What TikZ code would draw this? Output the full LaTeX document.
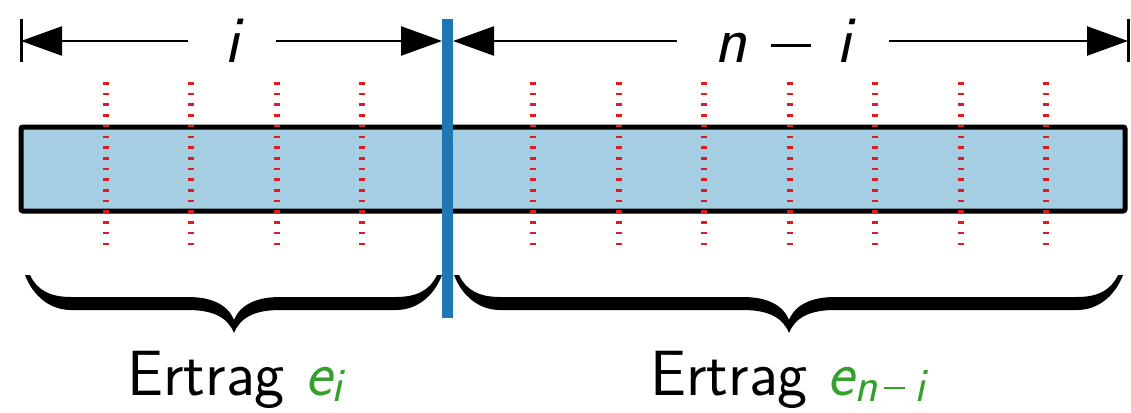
\documentclass[tikz,border=0pt]{standalone}
\usetikzlibrary{arrows.meta}
\definecolor{barfill}{HTML}{A6CEE3}
\definecolor{cutblue}{HTML}{1F77B4}
\definecolor{dotred}{HTML}{E31A1C}
\definecolor{ergreen}{HTML}{33A02C}
\newcommand\mybrace[3]{%
\fill[black] (#1,275) .. controls ({#1+8},296) and ({#1+25},310) .. ({#1+46},310)
 -- ({#3-46},310) .. controls ({#3-20},310) and ({#3-6},318) .. (#3,333)
 .. controls ({#3+6},318) and ({#3+20},310) .. ({#3+46},310)
 -- ({#2-46},310) .. controls ({#2-25},310) and ({#2-8},296) .. (#2,275)
 -- ({#2-5},275) .. controls ({#2-12},290) and ({#2-25},297) .. ({#2-46},297)
 -- ({#3+46},297) .. controls ({#3+22},297) and ({#3+6},305) .. (#3,320)
 .. controls ({#3-6},305) and ({#3-22},297) .. ({#3-46},297)
 -- ({#1+46},297) .. controls ({#1+25},297) and ({#1+12},290) .. ({#1+5},275) -- cycle;}
\newcommand\mminus{\hspace{0.36em}\rule[0.24em]{0.6em}{0.045em}\hspace{0.38em}}
\newcommand\sminus{\hspace{0.12em}\rule[0.25em]{0.45em}{0.06em}\hspace{0.2em}}
\tikzset{
  dimline/.style={line width=2.5pt, -{Triangle[length=41pt,width=29pt]}},
  dimlabel/.style={fill=white, inner xsep=37pt, inner ysep=0pt, font=\fontsize{67}{70}\selectfont\sffamily\slshape},
  tickline/.style={line width=3pt},
  barbox/.style={draw=black, line width=5pt, fill=barfill, rounded corners=2pt, minimum width=1104pt, minimum height=84pt, inner sep=0pt},
  cutline/.style={draw=cutblue, line width=11pt},
  sepline/.style={draw=dotred, line width=6pt, dash pattern=on 2.6pt off 8.1pt},
  ertrag/.style={font=\fontsize{64}{70}\selectfont\sffamily, anchor=base},
}
\begin{document}
\begin{tikzpicture}[x=1pt,y=-1pt]
\useasboundingbox (0,0) rectangle (1131,412);
% bar
\node[barbox] (bar) at (573,169) {};
% separators
\foreach \k in {1,...,12}{
  \ifnum\k=5\else
  \coordinate (st\k) at ({20+85.5*\k},82);
  \coordinate (sb\k) at ({20+85.5*\k},247);
  \draw[sepline] (st\k) -- (sb\k);
  \fi
}
% cut line
\coordinate (ctop) at (447.5,19);
\coordinate (cbot) at (447.5,318);
\draw[cutline] (ctop) -- (cbot);
% ticks
\coordinate (tl1) at (21,19);
\coordinate (tl2) at (21,62);
\coordinate (tr1) at (1128,19);
\coordinate (tr2) at (1128,62);
\draw[tickline] (tl1) -- (tl2);
\draw[tickline] (tr1) -- (tr2);
% dimension arrows
\coordinate (al) at (21,41);
\coordinate (am1) at (442,41);
\coordinate (am2) at (453,41);
\coordinate (ar) at (1128,41);
\draw[dimline] (232,41) -- (al);
\draw[dimline] (232,41) -- (am1);
\draw[dimline] (789,41) -- (am2);
\draw[dimline] (789,41) -- (ar);
\node[dimlabel] (li) at (232,41) {\vphantom{n}i};
\node[dimlabel] (lni) at (783,41) {n\mminus i};
% braces
\mybrace{25}{442}{234}
\mybrace{454}{1123}{789}
% labels
\node[ertrag] (e1) at (235,395) {Ertrag \textcolor{ergreen}{\slshape e\raisebox{-0.1em}{\fontsize{48}{50}\selectfont i}}};
\node[ertrag] (e2) at (788,395) {Ertrag \textcolor{ergreen}{\slshape e\raisebox{-0.1em}{\fontsize{48}{50}\selectfont n\sminus i}}};
\end{tikzpicture}
\end{document}
